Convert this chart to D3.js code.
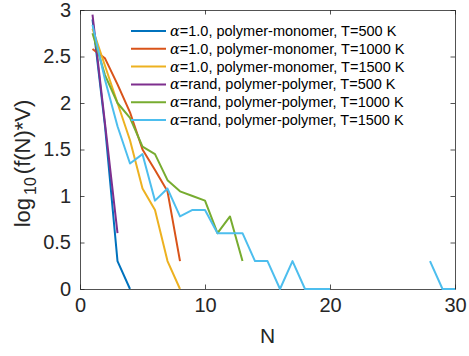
<!DOCTYPE html>
<html>
<head>
<meta charset="utf-8">
<script src="https://cdn.jsdelivr.net/npm/d3@7"></script>
<style>
  body { margin: 0; background: #fff; }
  svg { display: block; font-family: "Liberation Sans", Arial, sans-serif; }
</style>
</head>
<body>
<div id="chart"></div>
<script>
// N values shared by every series (null = log of zero, not drawn)
const nValues = d3.range(1, 31);

const seriesNames = [
  'α=1.0, polymer-monomer, T=500 K',
  'α=1.0, polymer-monomer, T=1000 K',
  'α=1.0, polymer-monomer, T=1500 K',
  'α=rand, polymer-polymer, T=500 K',
  'α=rand, polymer-polymer, T=1000 K',
  'α=rand, polymer-polymer, T=1500 K'
];
const seriesColors = ['#0072BD', '#D95319', '#EDB120', '#7E2F8E', '#77AC30', '#4DBEEE'];

// log10(f(N)*V)
const mono500  = [2.9, 1.75, 0.3, 0];
const mono1000 = [2.58, 2.48, 2.2, 1.9, 1.5, 1.28, 1.05, 0.3];
const mono1500 = [2.8, 2.4, 2.0, 1.6, 1.08, 0.85, 0.3, 0];
const poly500  = [2.95, 1.78, 0.6];
const poly1000 = [2.75, 2.3, 2.0, 1.84, 1.53, 1.45, 1.17, 1.05, 1.0, 0.95, 0.6, 0.78, 0.3];
const poly1500 = [2.84, 2.25, 1.75, 1.35, 1.45, 0.95, 1.08, 0.78, 0.85, 0.85,
                  0.6, 0.6, 0.6, 0.3, 0.3, 0, 0.3, 0, 0, 0,
                  null, null, null, null, null, null, null, 0.3, 0, 0];

const seriesValues = [mono500, mono1000, mono1500, poly500, poly1000, poly1500];

const xTicks = [0, 10, 20, 30];
const yTicks = [0, 0.5, 1, 1.5, 2, 2.5, 3];

const width = 469, height = 356;
const margin = { top: 10, right: 14, bottom: 67, left: 80 };
const plotW = width - margin.left - margin.right;
const plotH = height - margin.top - margin.bottom;
const axisColor = '#262626';

const svg = d3.select('#chart').append('svg')
  .attr('width', width)
  .attr('height', height);

const x = d3.scaleLinear().domain([0, 30]).range([margin.left, margin.left + plotW]);
const y = d3.scaleLinear().domain([0, 3]).range([margin.top + plotH, margin.top]);

// axes: matlab style, ticks inside, box on
const tickLen = 4.5;
const fmt = d => String(d);
const xAxisB = d3.axisBottom(x).tickValues(xTicks).tickSizeInner(-tickLen).tickSizeOuter(0).tickPadding(9).tickFormat(fmt);
const xAxisT = d3.axisTop(x).tickValues(xTicks).tickSizeInner(-tickLen).tickSizeOuter(0).tickFormat('');
const yAxisL = d3.axisLeft(y).tickValues(yTicks).tickSizeInner(-tickLen).tickSizeOuter(0).tickPadding(9).tickFormat(fmt);
const yAxisR = d3.axisRight(y).tickValues(yTicks).tickSizeInner(-tickLen).tickSizeOuter(0).tickFormat('');

function styleAxis(g) {
  g.selectAll('path, line').attr('stroke', axisColor).attr('stroke-width', 0.8);
  g.selectAll('text').attr('fill', axisColor).attr('font-size', 20)
    .attr('font-family', '"Liberation Sans", Arial, sans-serif');
}

svg.append('g').attr('transform', `translate(0,${margin.top + plotH})`).call(xAxisB).call(styleAxis);
svg.append('g').attr('transform', `translate(0,${margin.top})`).call(xAxisT).call(styleAxis);
svg.append('g').attr('transform', `translate(${margin.left},0)`).call(yAxisL).call(styleAxis);
svg.append('g').attr('transform', `translate(${margin.left + plotW},0)`).call(yAxisR).call(styleAxis);

// data lines, drawn over the box like matlab does
const line = d3.line()
  .defined(d => d.v != null)
  .x(d => x(d.n))
  .y(d => y(d.v));

const lines = svg.append('g');
seriesValues.forEach((vals, i) => {
  lines.append('path')
    .datum(vals.map((v, k) => ({ n: nValues[k], v: v })))
    .attr('fill', 'none')
    .attr('stroke', seriesColors[i])
    .attr('stroke-width', 2)
    .attr('stroke-linejoin', 'round')
    .attr('d', line);
});

// axis labels
svg.append('text')
  .attr('x', x(15))
  .attr('y', 343)
  .attr('text-anchor', 'middle')
  .attr('font-size', 21)
  .attr('fill', axisColor)
  .text('N');

const yLab = svg.append('text')
  .attr('transform', `translate(30,${y(1.5) + 14}) rotate(-90)`)
  .attr('text-anchor', 'middle')
  .attr('font-size', 22)
  .attr('fill', axisColor);
yLab.append('tspan').text('log');
yLab.append('tspan').attr('font-size', 16).attr('dx', 3).attr('dy', 6).text('10');
yLab.append('tspan').attr('dx', 3).attr('dy', -6).text('(f(N)*V)');

// legend
const legend = svg.append('g');
const legX0 = 131, legX1 = 166, legY0 = 31, legStep = 17.8;
seriesNames.forEach((name, i) => {
  const ly = legY0 + i * legStep;
  legend.append('line')
    .attr('x1', legX0).attr('x2', legX1)
    .attr('y1', ly).attr('y2', ly)
    .attr('stroke', seriesColors[i])
    .attr('stroke-width', 2);
  const t = legend.append('text')
    .attr('x', legX1 + 4)
    .attr('y', ly + 5)
    .attr('font-size', 14.5)
    .attr('fill', '#000');
  t.append('tspan').attr('font-style', 'italic')
    .attr('font-family', '"DejaVu Serif", serif').text(name.slice(0, 1));
  t.append('tspan').text(name.slice(1));
});
</script>
</body>
</html>
